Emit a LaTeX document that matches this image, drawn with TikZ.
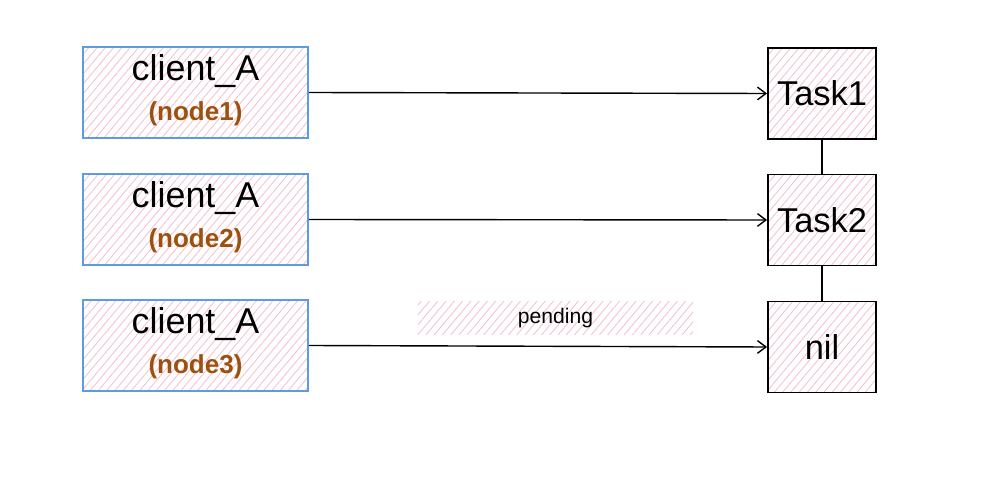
\documentclass[tikz,border=0pt]{standalone}
\usepackage{fontspec}
\setmainfont{Liberation Sans}
\usepackage{xcolor}
\usetikzlibrary{arrows, arrows.meta}
\usetikzlibrary{patterns,patterns.meta}
\usetikzlibrary{positioning}

\definecolor{hatchpink}{RGB}{246,190,210}
\definecolor{clientblue}{RGB}{92,156,226}
\definecolor{nodebrown}{RGB}{156,82,14}

\tikzset{
	hatch/.style={pattern={Lines[angle=50,distance=4.5pt,line width=0.6pt]}, pattern color=hatchpink},
	clientbox/.style={hatch, draw=clientblue, line width=1.2pt, minimum width=5.625cm, minimum height=2.275cm, align=center, inner sep=0pt},
	taskbox/.style={hatch, draw=black, line width=1.3pt, minimum width=2.7cm, minimum height=2.275cm, inner sep=0pt, font=\fontsize{24.5}{28}\selectfont},
	flow/.style={-{Straight Barb[length=6pt,width=9pt]}, line width=1pt},
}

\newcommand{\clienttext}[1]{{\fontsize{25.5}{28}\selectfont client\_A}\\[9pt]{\color{nodebrown}\bfseries\fontsize{18.5}{20}\selectfont (#1)}\\[-5pt]}

\begin{document}
\begin{tikzpicture}[x=0.025cm,y=-0.025cm]
			\useasboundingbox (0,0) rectangle (1002,498);
			
			% Clients
			\node[clientbox] (c1) at (195.5,92.5) {\clienttext{node1}};
			\node[clientbox] (c2) at (195.5,219.5) {\clienttext{node2}};
			\node[clientbox] (c3) at (195.5,345.5) {\clienttext{node3}};
			
			% Task list
			\node[taskbox] (t1) at (822,93.5) {Task1};
			\node[taskbox] (t2) at (822,220) {Task2};
			\node[taskbox] (nil) at (822,347) {nil};
			\draw[line width=1.1pt] (t1.south) -- (t2.north);
			\draw[line width=1.1pt] (t2.south) -- (nil.north);
			
			% Pending label
			\node[hatch, minimum width=6.875cm, minimum height=0.8cm, font=\fontsize{15}{17}\selectfont] (pend) at (555.5,318) {pending};
			
			% Requests
			\draw[flow] (c1.east) -- (t1.west);
			\draw[flow] (c2.east) -- (t2.west);
			\draw[flow] (c3.east) -- (nil.west);
		\end{tikzpicture}
\end{document}
